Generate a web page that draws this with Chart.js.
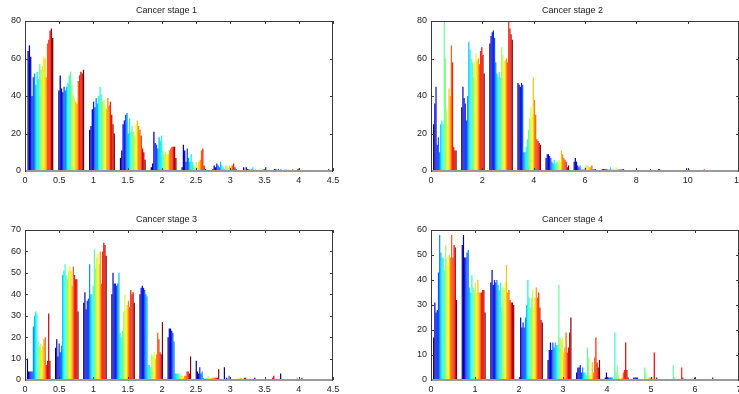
<!DOCTYPE html>
<html>
<head>
<meta charset="utf-8">
<script src="https://cdn.jsdelivr.net/npm/chart.js@4/dist/chart.umd.min.js"></script>
<style>
  html, body { margin: 0; padding: 0; background: #fff; width: 739px; height: 394px; overflow: hidden; }
  .panel { position: absolute; }
</style>
</head>
<body>
<div class="panel" style="left:0px;top:0px;width:345px;height:190px"><canvas id="c1"></canvas></div>
<div class="panel" style="left:406px;top:0px;width:333px;height:190px"><canvas id="c2"></canvas></div>
<div class="panel" style="left:0px;top:209px;width:345px;height:185px"><canvas id="c3"></canvas></div>
<div class="panel" style="left:406px;top:209px;width:333px;height:185px"><canvas id="c4"></canvas></div>
<script>
// bin centres for each stage (10 bins each)
const stage1Bins = [0.225, 0.675, 1.125, 1.575, 2.025, 2.475, 2.925, 3.375, 3.825, 4.275];
const stage2Bins = [0.54, 1.635, 2.73, 3.825, 4.92, 6.015, 7.11, 8.205, 9.3, 10.395];
const stage3Bins = [0.2, 0.611, 1.022, 1.433, 1.844, 2.255, 2.666, 3.077, 3.488, 3.899];
const stage4Bins = [0.32, 0.97, 1.62, 2.27, 2.92, 3.57, 4.22, 4.87, 5.52, 6.17];

// counts: one row per bin, one value per series (blue -> red)
const stage1 = [
    [64, 67, 61, 40, 50, 52, 46, 53, 49, 57, 54, 56, 61, 60, 50, 68, 70, 75, 76, 71],
    [43, 51, 44, 42, 45, 43, 45, 47, 51, 53, 46, 41, 39, 37, 36, 48, 51, 53, 52, 54],
    [22, 24, 33, 37, 34, 39, 36, 40, 45, 41, 37, 38, 35, 33, 39, 35, 37, 30, 25, 20],
    [7, 11, 25, 27, 30, 31, 20, 28, 21, 24, 21, 19, 25, 27, 24, 22, 19, 12, 10, 6],
    [2, 4, 21, 15, 14, 12, 18, 16, 19, 11, 9, 10, 9, 9, 11, 12, 13, 13, 13, 7],
    [2, 14, 11, 5, 12, 7, 5, 9, 5, 3, 2, 5, 3, 5, 6, 11, 12, 3, 1, 0],
    [1, 3, 2, 4, 3, 2, 5, 3, 2, 1, 3, 3, 2, 3, 2, 3, 4, 2, 1, 0],
    [2, 0, 2, 1, 1, 0, 1, 2, 0, 1, 0, 0, 1, 0, 0, 1, 1, 2, 0, 0],
    [1, 1, 0, 1, 0, 1, 0, 0, 1, 1, 0, 1, 0, 0, 1, 0, 0, 0, 1, 1.5],
    [0, 0, 0, 0, 0, 0, 0, 0, 0.5, 0, 0, 0, 0, 0, 0, 0, 0, 0, 1, 0]
];
const stage2 = [
    [25, 36, 45, 14, 18, 10, 25, 27, 25, 80, 60, 33, 25, 44, 40, 67, 58, 13, 11, 11],
    [34, 45, 39, 36, 27, 40, 69, 65, 60, 58, 50, 58, 63, 59, 60, 57, 64, 66, 62, 52],
    [68, 72, 74, 75, 71, 58, 52, 50, 53, 50, 66, 62, 58, 59, 60, 58, 80, 76, 73, 70],
    [47, 46, 45, 47, 46, 10, 10, 13, 17, 22, 28, 34, 30, 50, 38, 30, 17, 16, 15, 14],
    [7, 9, 9, 8, 7, 5, 4, 6, 4, 5, 5, 6, 5, 11, 9, 7, 6, 5, 2, 3],
    [5, 7, 5, 3, 2, 3, 1, 1, 1, 2, 3, 3, 3, 2, 2, 3, 1, 1, 1, 0],
    [1, 1, 1, 1, 1, 0, 1, 2, 1, 0, 1, 1, 2, 1, 1, 1, 1, 1, 1, 0],
    [0, 0, 0, 0, 0, 0, 0, 0, 0, 0, 0, 0, 0, 0, 0, 0, 0, 1, 0, 0],
    [1, 1, 0, 0, 0, 0, 0, 0, 0, 0, 0, 0, 0.5, 0, 0, 0, 0, 0, 0, 0],
    [1.5, 0, 1, 0, 0, 0, 0, 0, 0, 0, 0, 0, 0, 0, 0, 1, 0, 0, 0, 0]
];
const stage3 = [
    [10, 4, 4, 4, 4, 25, 30, 32, 31, 18, 16, 17, 14, 16, 19, 20, 7, 9, 31, 9],
    [15, 19, 11, 17, 13, 16, 49, 51, 54, 49, 47, 51, 53, 51, 44, 53, 49, 47, 47, 32],
    [36, 41, 33, 37, 38, 54, 40, 40, 44, 61, 52, 57, 59, 54, 60, 45, 60, 64, 63, 58],
    [40, 50, 45, 45, 44, 45, 50, 22, 20, 23, 32, 40, 33, 35, 37, 34, 42, 40, 41, 36],
    [40, 43, 44, 43, 42, 40, 39, 7, 7, 6, 12, 11, 13, 10, 12, 22, 19, 13, 12, 27],
    [20, 24, 24, 23, 22, 18, 3, 3, 3, 3, 3, 2, 2, 1, 2, 2, 4, 4, 3, 11],
    [9, 4, 3, 6, 3, 4, 1, 0, 0, 1, 2, 1, 1, 1, 1, 1, 1, 1, 1, 5],
    [6, 0, 1, 0, 2, 0, 0, 0, 0, 0, 0, 0, 1, 0, 1, 0, 0, 1, 1, 0],
    [0, 0, 1, 0, 0, 0, 0, 0, 0, 0, 0, 0, 0, 0, 0, 0, 0, 1, 2, 0],
    [3, 0, 0, 0, 0, 0, 0, 0, 0, 0, 0, 0, 0, 0, 1, 0, 1, 0, 1, 0]
];
const stage4 = [
    [17, 31, 27, 28, 43, 58, 51, 49, 49, 44, 54, 49, 46, 50, 49, 58, 49, 54, 53, 32],
    [54, 58, 49, 49, 51, 52, 37, 35, 42, 37, 36, 39, 35, 40, 35, 35, 35, 36, 36, 27],
    [39, 44, 38, 40, 39, 40, 38, 36, 39, 29, 37, 36, 39, 46, 35, 36, 32, 31, 31, 30],
    [1, 25, 21, 23, 21, 25, 30, 40, 33, 29, 33, 36, 29, 33, 37, 33, 35, 29, 24, 23],
    [8, 12, 15, 12, 15, 13, 15, 14, 14, 38, 17, 16, 17, 11, 13, 19, 11, 13, 19, 25],
    [3, 5, 5, 6, 3, 5, 3, 3, 2, 13, 9, 2, 3, 7, 3, 9, 17, 7, 5, 8],
    [1, 3, 1, 1, 1, 1, 1, 0, 19, 3, 6, 2, 1, 0, 1, 3, 4, 15, 4, 1],
    [1, 1, 1, 1, 0, 0, 0, 0, 0, 5, 3, 0, 1, 1, 1, 1, 0, 11, 0, 1],
    [0, 0, 0, 0, 0, 0, 0, 0, 0, 6, 1, 0, 0, 0, 0, 0, 5, 1, 0, 0],
    [0, 0, 0, 1, 0, 0, 0, 0, 0, 0, 0, 0, 0, 0, 0, 0, 0, 0, 1, 0]
];

const titles = ['Cancer stage 1', 'Cancer stage 2', 'Cancer stage 3', 'Cancer stage 4'];

const FONT = 'Liberation Sans, Arial, Helvetica, sans-serif';

// matlab jet colormap
function jet(t) {
    const c = v => Math.round(255 * Math.max(0, Math.min(1, v)));
    return `rgb(${c(1.5 - Math.abs(4 * t - 3))},${c(1.5 - Math.abs(4 * t - 2))},${c(1.5 - Math.abs(4 * t - 1))})`;
}

// plain number labels: 0, 0.5, 1, 1.5 ...
const plainLabel = v => String(Math.round(v * 100) / 100);

// box with inward ticks, like matlab axes
const axesBox = {
    id: 'axesBox',
    afterDatasetsDraw(chart) {
        const { ctx, chartArea: a, scales } = chart;
        const tl = 3;
        ctx.save();
        ctx.strokeStyle = '#3a3a3a';
        ctx.lineWidth = 1;
        ctx.beginPath();
        scales.x.ticks.forEach(t => {
            const px = Math.round(scales.x.getPixelForValue(t.value)) + 0.5;
            ctx.moveTo(px, a.bottom); ctx.lineTo(px, a.bottom - tl);
            ctx.moveTo(px, a.top); ctx.lineTo(px, a.top + tl);
        });
        scales.y.ticks.forEach(t => {
            const py = Math.round(scales.y.getPixelForValue(t.value)) + 0.5;
            ctx.moveTo(a.left, py); ctx.lineTo(a.left + tl, py);
            ctx.moveTo(a.right, py); ctx.lineTo(a.right - tl, py);
        });
        ctx.stroke();
        ctx.strokeRect(Math.round(a.left) + 0.5, Math.round(a.top) + 0.5,
            Math.round(a.right - a.left) - 1, Math.round(a.bottom - a.top));
        // bar baseline
        ctx.strokeStyle = '#9a9a9a';
        ctx.lineWidth = 2;
        ctx.beginPath();
        const y0 = Math.round(scales.y.getPixelForValue(0));
        ctx.moveTo(a.left + 1, y0); ctx.lineTo(a.right - 1, y0);
        ctx.stroke();
        ctx.restore();
    }
};

function makePanel(id, title, bins, groups, xMax, xStep, yMax, yStep, rightPad, xAxisH) {
    const nSeries = groups[0].length;
    const datasets = [];
    for (let i = 0; i < nSeries; i++) {
        datasets.push({
            data: groups.map((g, j) => ({ x: bins[j], y: g[i] })),
            backgroundColor: jet(i / (nSeries - 1)),
            borderWidth: 0,
            categoryPercentage: 0.84,
            barPercentage: 1.0
        });
    }
    new Chart(document.getElementById(id), {
        type: 'bar',
        data: { datasets },
        options: {
            responsive: true,
            maintainAspectRatio: false,
            animation: false,
            layout: { padding: { left: 0, right: rightPad, top: 0, bottom: 0 } },
            plugins: {
                legend: { display: false },
                tooltip: { enabled: false },
                title: {
                    display: true,
                    text: title,
                    color: '#222',
                    font: { family: FONT, size: 9, weight: 'normal', lineHeight: '12px' },
                    padding: { top: 5, bottom: 4 }
                }
            },
            scales: {
                x: {
                    type: 'linear',
                    min: 0, max: xMax,
                    offset: false,
                    grid: { display: false, drawTicks: false, offset: false },
                    border: { display: false },
                    ticks: {
                        stepSize: xStep, autoSkip: false, maxRotation: 0, padding: 4,
                        color: '#222', font: { family: FONT, size: 9 },
                        callback: plainLabel
                    },
                    afterFit: s => { s.height = xAxisH; s.paddingLeft = 0; s.paddingRight = 0; }
                },
                y: {
                    min: 0, max: yMax,
                    grid: { display: false, drawTicks: false },
                    border: { display: false },
                    ticks: {
                        stepSize: yStep, padding: 4,
                        color: '#222', font: { family: FONT, size: 9 },
                        callback: plainLabel
                    },
                    afterFit: s => { s.width = 25; s.paddingTop = 0; s.paddingBottom = 0; }
                }
            }
        },
        plugins: [axesBox]
    });
}

makePanel('c1', titles[0], stage1Bins, stage1, 4.5, 0.5, 80, 20, 12, 19);
makePanel('c2', titles[1], stage2Bins, stage2, 12, 2, 80, 20, 0, 19);
makePanel('c3', titles[2], stage3Bins, stage3, 4.5, 0.5, 70, 10, 12, 14);
makePanel('c4', titles[3], stage4Bins, stage4, 7, 1, 60, 10, 0, 14);
</script>
</body>
</html>
